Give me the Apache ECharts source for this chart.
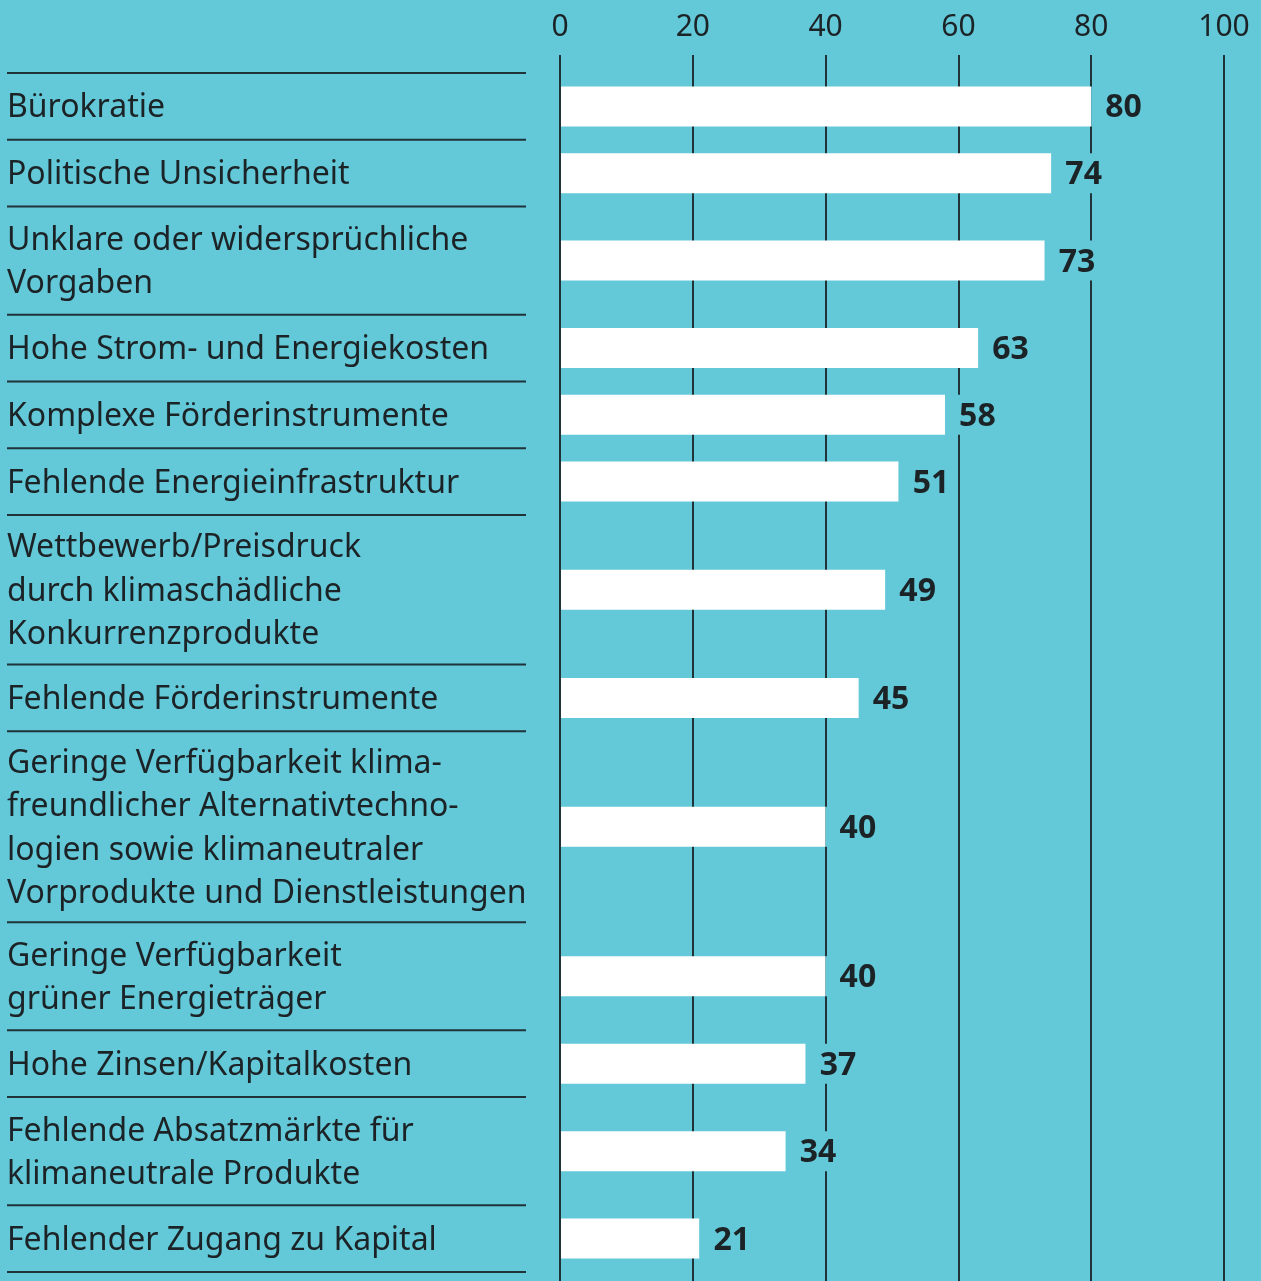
<!DOCTYPE html>
<html>
<head>
<meta charset="utf-8">
<script src="https://cdn.jsdelivr.net/npm/echarts@6/dist/echarts.min.js"></script>
<style>
  html, body { margin: 0; padding: 0; background: #63c8d8; }
  #chart { width: 1261px; height: 1281px; }
</style>
</head>
<body>
<div id="chart"></div>
<script>
// ---- data ----
const categories = [
  'Bürokratie',
  'Politische Unsicherheit',
  'Unklare oder widersprüchliche\nVorgaben',
  'Hohe Strom- und Energiekosten',
  'Komplexe Förderinstrumente',
  'Fehlende Energieinfrastruktur',
  'Wettbewerb/Preisdruck\ndurch klimaschädliche\nKonkurrenzprodukte',
  'Fehlende Förderinstrumente',
  'Geringe Verfügbarkeit klima-\nfreundlicher Alternativtechno-\nlogien sowie klimaneutraler\nVorprodukte und Dienstleistungen',
  'Geringe Verfügbarkeit\ngrüner Energieträger',
  'Hohe Zinsen/Kapitalkosten',
  'Fehlende Absatzmärkte für\nklimaneutrale Produkte',
  'Fehlender Zugang zu Kapital'
];
const values = [80, 74, 73, 63, 58, 51, 49, 45, 40, 40, 37, 34, 21];
const axisMin = 0;
const axisMax = 100;
const axisInterval = 20;

// ---- style ----
const BG = '#63c8d8';
const INK = '#1c2326';
const LINE = '#1f3338';
const FONT = '"Noto Sans", sans-serif';
const ROW_PAD = 0.614;   // extra space per row, in text-line units

// rows: variable height by number of label lines
let cum = 0;
const rows = categories.map((c, i) => {
  const n = c.split('\n').length;
  const start = cum;
  cum += n + ROW_PAD;
  return [values[i], start + (n + ROW_PAD) / 2, i];
});
const total = cum;
const bounds = [0];
{
  let s = 0;
  categories.forEach(c => { s += c.split('\n').length + ROW_PAD; bounds.push(s); });
}

const chart = echarts.init(document.getElementById('chart'), null, { renderer: 'canvas' });

function renderBar(params, api) {
  const v = api.value(0);
  const c = api.value(1);
  const i = api.value(2);
  const p0 = api.coord([0, c]);
  const p1 = api.coord([v, c]);
  const h = 40;
  return {
    type: 'group',
    children: [
      { type: 'rect', shape: { x: p0[0] + 1, y: p0[1] - h / 2, width: p1[0] - p0[0] - 1, height: h },
        style: { fill: '#ffffff' } },
      { type: 'rect', shape: { x: p1[0], y: p1[1] - h / 2, width: 55, height: h },
        style: { fill: BG } },
      { type: 'text', x: p1[0] + 14, y: p1[1] + 2,
        style: { text: String(v), fill: INK, font: 'bold 32px ' + FONT, verticalAlign: 'middle', align: 'left' } },
      { type: 'text', x: 7, y: p1[1] + 2,
        style: { text: categories[i], fill: INK, font: '32px ' + FONT, lineHeight: 43.5,
                 verticalAlign: 'middle', align: 'left' } }
    ]
  };
}

function renderSep(params, api) {
  const y = api.coord([0, api.value(1)])[1];
  return { type: 'line', shape: { x1: 7, y1: y, x2: 526, y2: y },
           style: { stroke: LINE, lineWidth: 2 } };
}

chart.setOption({
  backgroundColor: BG,
  animation: false,
  grid: [
    { left: 560, right: 37, top: 55, bottom: 0 },
    { left: 560, right: 37, top: 73, bottom: 9 }
  ],
  xAxis: [
    { type: 'value', gridIndex: 0, position: 'top', min: axisMin, max: axisMax, interval: axisInterval,
      axisLine: { show: false }, axisTick: { show: false },
      axisLabel: { color: INK, fontFamily: FONT, fontSize: 30, margin: 13 },
      splitLine: { show: true, lineStyle: { color: LINE, width: 2 } } },
    { type: 'value', gridIndex: 1, min: axisMin, max: axisMax, show: false, splitLine: { show: false } }
  ],
  yAxis: [
    { type: 'value', gridIndex: 0, min: 0, max: 1, show: false, splitLine: { show: false } },
    { type: 'value', gridIndex: 1, min: 0, max: total, inverse: true, show: false, splitLine: { show: false } }
  ],
  series: [
    { type: 'custom', xAxisIndex: 1, yAxisIndex: 1, clip: false, renderItem: renderSep,
      encode: { x: 0, y: 1 }, data: bounds.map(b => [0, b]) },
    { type: 'custom', xAxisIndex: 1, yAxisIndex: 1, clip: false, renderItem: renderBar,
      encode: { x: 0, y: 1 }, data: rows }
  ]
});
</script>
</body>
</html>
